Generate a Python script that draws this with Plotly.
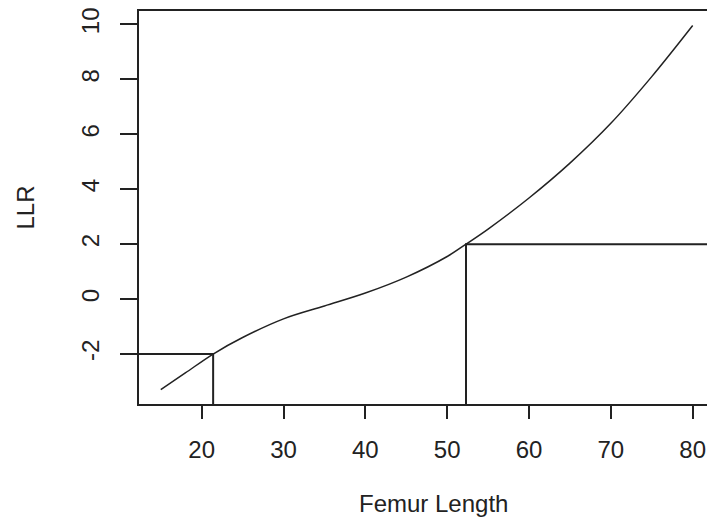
import plotly.graph_objects as go

# Curve values
femur_length = [15, 18, 21.4, 25, 30, 35, 40, 45, 50, 52.3, 55, 60, 65, 70, 75, 80]
llr = [-3.3, -2.69, -2.0, -1.4, -0.72, -0.25, 0.22, 0.8, 1.55, 2.0, 2.55, 3.68, 4.95, 6.4, 8.1, 9.96]

# Cut-off points marked with segments
cut_x = [21.4, 52.3]
cut_y = [-2, 2]

x_ticks = [20, 30, 40, 50, 60, 70, 80]
y_ticks = [-2, 0, 2, 4, 6, 8, 10]
y_tick_text = ["-2", "0", "2", "4", "6", "8", "10"]

x_range = [12.34, 81.75]
y_range = [-3.82, 10.49]

ink = "#222222"
font = dict(family="Liberation Sans, Arial, sans-serif", size=24, color=ink)

fig = go.Figure()
fig.add_trace(go.Scatter(x=femur_length, y=llr, mode="lines",
                         line=dict(color=ink, width=1.5, shape="spline", smoothing=1.0),
                         showlegend=False, hoverinfo="skip"))
# lower cut-off: horizontal from left edge, vertical down to bottom
fig.add_trace(go.Scatter(x=[x_range[0], cut_x[0], cut_x[0]], y=[cut_y[0], cut_y[0], y_range[0]],
                         mode="lines", line=dict(color=ink, width=2), showlegend=False,
                         hoverinfo="skip", cliponaxis=True))
# upper cut-off: horizontal to right edge, vertical down to bottom
fig.add_trace(go.Scatter(x=[x_range[1] + 5, cut_x[1], cut_x[1]], y=[cut_y[1], cut_y[1], y_range[0]],
                         mode="lines", line=dict(color=ink, width=2), showlegend=False,
                         hoverinfo="skip", cliponaxis=True))

fig.update_layout(
    width=707, height=519,
    margin=dict(l=139, r=0, t=11, b=115),
    paper_bgcolor="white", plot_bgcolor="white",
    font=font,
    xaxis=dict(range=x_range, tickvals=x_ticks, ticks="outside", ticklen=13, tickwidth=2,
               tickcolor=ink, showline=True, linecolor=ink, linewidth=2, mirror=True,
               showgrid=False, zeroline=False, ticklabelstandoff=10, tickfont=font),
    yaxis=dict(range=y_range, tickvals=y_ticks, ticktext=y_tick_text, ticks="outside",
               ticklen=17, tickwidth=2,
               tickcolor=ink, showline=True, linecolor=ink, linewidth=2, mirror=False,
               showgrid=False, zeroline=False, tickangle=-90, ticklabelstandoff=11, tickfont=font),
    annotations=[
        dict(text="Femur Length", xref="paper", yref="paper", x=0.518, y=-0.253,
             showarrow=False, xanchor="center", yanchor="middle", font=font),
        dict(text="LLR", xref="paper", yref="paper", x=-0.2, y=0.501, textangle=-90,
             showarrow=False, xanchor="center", yanchor="middle", font=font),
    ],
)

fig.write_html("out.html")
